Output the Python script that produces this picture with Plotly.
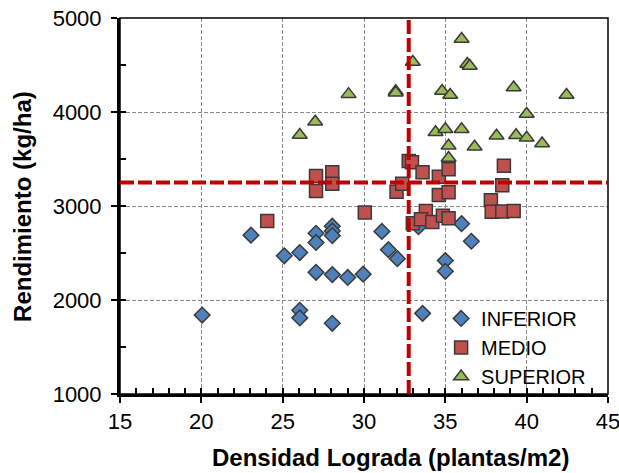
import plotly.graph_objects as go

# ---- data ----
inferior_x = [20.05, 23.05, 25.1, 26.05, 27.05, 27.05, 28.05, 28.05, 28.05, 27.05, 28.05, 29.0, 29.95,
              26.05, 26.05, 28.05, 31.1, 31.5, 32.05, 33.35, 33.6, 35.0, 35.0, 36.0, 36.6]
inferior_y = [1840, 2690, 2470, 2505, 2710, 2612, 2785, 2735, 2685, 2295, 2270, 2240, 2275,
              1890, 1810, 1752, 2730, 2535, 2440, 2780, 1858, 2420, 2305, 2812, 2625]

medio_x = [24.05, 27.05, 27.05, 28.05, 28.05, 30.05, 32.0, 32.35, 32.75, 32.95, 33.6, 34.6, 35.2,
           34.6, 35.2, 33.8, 33.0, 33.5, 34.2, 34.85, 35.2, 37.8, 38.5, 38.6, 37.85, 38.5, 39.2]
medio_y = [2840, 3320, 3160, 3360, 3237, 2930, 3152, 3236, 3478, 3466, 3358, 3312, 3390,
           3117, 3146, 2947, 2816, 2858, 2830, 2895, 2869, 3060, 3220, 3429, 2940, 2942, 2947]

superior_x = [29.05, 27.0, 26.05, 31.95, 31.95, 33.0, 34.8, 35.3, 36.0, 36.35, 36.5, 39.2, 42.45,
              40.0, 34.4, 35.0, 36.0, 35.2, 36.8, 35.2, 38.15, 39.35, 40.0, 40.95]
superior_y = [4190, 3897, 3755, 4222, 4205, 4532, 4223, 4180, 4777, 4510, 4490, 4260, 4180,
              3979, 3784, 3816, 3816, 3641, 3631, 3510, 3747, 3752, 3725, 3665]

umbral_densidad = 32.75     # vertical threshold (plantas/m2)
umbral_rendimiento = 3250   # horizontal threshold (kg/ha)

x_range = [15, 45]
y_range = [1000, 5000]

FONT = "Liberation Sans, Arial, sans-serif"
EDGE = "#3a3a3a"

fig = go.Figure()

fig.add_trace(go.Scatter(
    x=inferior_x, y=inferior_y, mode="markers", name="INFERIOR",
    marker=dict(symbol="diamond", size=12, color="#4F81BD", line=dict(color=EDGE, width=1.5))))
fig.add_trace(go.Scatter(
    x=medio_x, y=medio_y, mode="markers", name="MEDIO",
    marker=dict(symbol="square", size=13, color="#C0504D", line=dict(color=EDGE, width=1.5))))
fig.add_trace(go.Scatter(
    x=superior_x, y=superior_y, mode="markers", name="SUPERIOR",
    marker=dict(symbol="triangle-up", size=13, color="#9BBB59", line=dict(color=EDGE, width=1.5))))

# invisible trace carrying the overlay axes used for inside (minor) ticks
fig.add_trace(go.Scatter(x=[None], y=[None], xaxis="x2", yaxis="y2",
                         showlegend=False, hoverinfo="skip"))

grid = dict(showgrid=True, gridcolor="#8a8a8a", gridwidth=1, griddash="4px,2px")

fig.update_layout(
    width=619, height=473,
    margin=dict(l=120, r=11, t=18, b=79, autoexpand=False),
    paper_bgcolor="white", plot_bgcolor="white",
    font=dict(family=FONT, color="black"),
    xaxis=dict(range=x_range, tickmode="linear", tick0=15, dtick=5,
               showline=True, linewidth=3, linecolor="black",
               ticks="outside", ticklen=6, tickwidth=2, tickcolor="black",
               ticklabeloverflow="allow", automargin=False,
               tickfont=dict(size=22, family=FONT), zeroline=False, **grid),
    yaxis=dict(range=y_range, tickmode="linear", tick0=1000, dtick=1000,
               showline=True, linewidth=3, linecolor="black",
               ticks="outside", ticklen=6, tickwidth=2, tickcolor="black",
               ticklabelstandoff=5, ticklabeloverflow="allow", automargin=False,
               tickfont=dict(size=22, family=FONT), zeroline=False, **grid),
    xaxis2=dict(range=x_range, overlaying="x", anchor="y2", tickmode="linear", tick0=15, dtick=1,
                ticks="inside", ticklen=6, tickwidth=2, tickcolor="black", automargin=False,
                showticklabels=False, showgrid=False, showline=False, zeroline=False),
    yaxis2=dict(range=y_range, overlaying="y", anchor="x2", tickmode="linear", tick0=1000, dtick=500,
                ticks="inside", ticklen=6, tickwidth=2, tickcolor="black", automargin=False,
                showticklabels=False, showgrid=False, showline=False, zeroline=False),
    legend=dict(x=0.658, xanchor="left", y=0.2527, yanchor="top",
                bgcolor="rgba(0,0,0,0)", borderwidth=0,
                font=dict(size=20, family=FONT), itemwidth=30),
    showlegend=True,
)

# white patch behind the legend (covers the gridline there)
fig.add_shape(type="rect", xref="paper", yref="paper", x0=0.672, x1=0.995, y0=0.022, y1=0.243,
              fillcolor="white", line=dict(width=0), layer="between")
# plot-area border
fig.add_shape(type="rect", xref="paper", yref="paper", x0=0, x1=1, y0=0, y1=1,
              line=dict(color="black", width=1.5), layer="above")
# threshold lines
fig.add_shape(type="line", xref="x", yref="y", x0=x_range[0], x1=x_range[1],
              y0=umbral_rendimiento, y1=umbral_rendimiento,
              line=dict(color="#C00000", width=4, dash="14px,4px"), layer="above")
fig.add_shape(type="line", xref="x", yref="y", x0=umbral_densidad, x1=umbral_densidad,
              y0=y_range[0], y1=y_range[1],
              line=dict(color="#C00000", width=4, dash="14px,4px"), layer="above")

# axis titles
fig.add_annotation(text="<b>Densidad Lograda (plantas/m2)</b>", xref="paper", yref="paper",
                   x=0.555, y=-0.17, xanchor="center", yanchor="middle", showarrow=False,
                   font=dict(size=24, family=FONT, color="black"))
fig.add_annotation(text="<b>Rendimiento (kg/ha)</b>", xref="paper", yref="paper",
                   x=-0.201, y=0.5, xanchor="center", yanchor="middle", textangle=-90,
                   showarrow=False, font=dict(size=24, family=FONT, color="black"))

# remove the default 8px page margin so the 619x473 figure fills the window exactly
fig.write_html("out.html",
               config={"displayModeBar": False},
               post_script="document.body.style.margin='0';document.body.style.overflow='hidden';")
